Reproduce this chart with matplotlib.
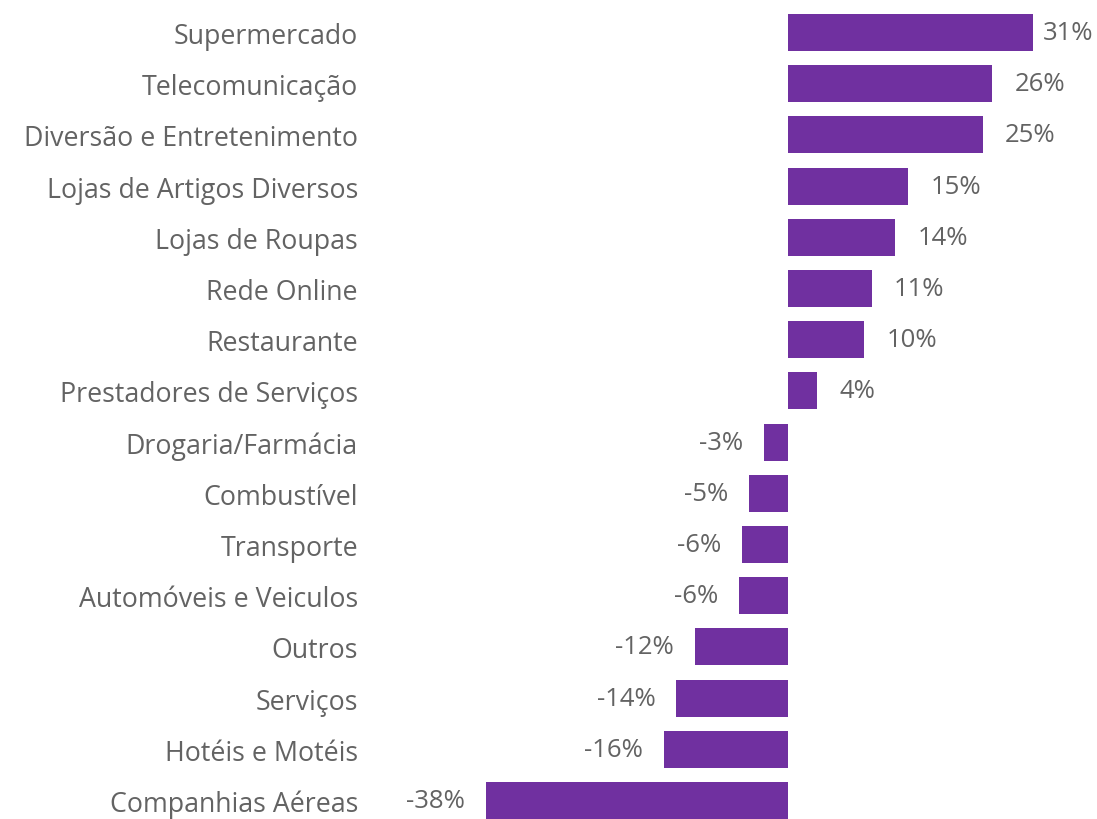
import matplotlib
matplotlib.use("Agg")
import matplotlib.pyplot as plt

categories = ["Supermercado", "Telecomunicação", "Diversão e Entretenimento",
              "Lojas de Artigos Diversos", "Lojas de Roupas", "Rede Online",
              "Restaurante", "Prestadores de Serviços", "Drogaria/Farmácia",
              "Combustível", "Transporte", "Automóveis e Veiculos", "Outros",
              "Serviços", "Hotéis e Motéis", "Companhias Aéreas"]
values = [31.0, 25.8, 24.6, 15.2, 13.6, 10.6, 9.7, 3.7,
          -3.0, -4.8, -5.7, -6.1, -11.7, -14.0, -15.6, -38.0]

W, H = 1097, 820
fig = plt.figure(figsize=(W / 100, H / 100), dpi=100)
plt.rcParams['font.family'] = ['Open Sans', 'DejaVu Sans']

zero_px = 787.5
ppu = 7.93
xmin, xmax = -40, 33
left_px = zero_px + xmin * ppu
right_px = zero_px + xmax * ppu
ax = fig.add_axes([left_px / W, 0, (right_px - left_px) / W, 1])

pitch = 51.2
c0 = 33.5
ytop = -c0 / pitch
ybot = (H - c0) / pitch

color = "#7030A0"
txt = "#636363"
fs_cat = 19.3
fs_val = 18.5
ypos = list(range(len(categories)))
ax.barh(ypos, values, height=0.72, color=color)
ax.set_xlim(xmin, xmax)
ax.set_ylim(ybot, ytop)
ax.set_yticks(ypos)
ax.set_yticklabels(categories, fontsize=fs_cat, color=txt)
ax.tick_params(axis='y', length=0, pad=(left_px - 358) * 0.72)
ax.set_xticks([])
for s in ax.spines.values():
    s.set_visible(False)

vmax = max(values)
for y, v in zip(ypos, values):
    lab = f"{round(v):d}%"
    if v >= 0:
        off = 7 if v == vmax else 16
        ax.annotate(lab, (v, y), xytext=(off, 0), textcoords='offset points',
                    ha='left', va='center', fontsize=fs_val, color=txt,
                    annotation_clip=False)
    else:
        ax.annotate(lab, (v, y), xytext=(-15, 0), textcoords='offset points',
                    ha='right', va='center', fontsize=fs_val, color=txt,
                    annotation_clip=False)

fig.savefig("out.png", dpi=100)
